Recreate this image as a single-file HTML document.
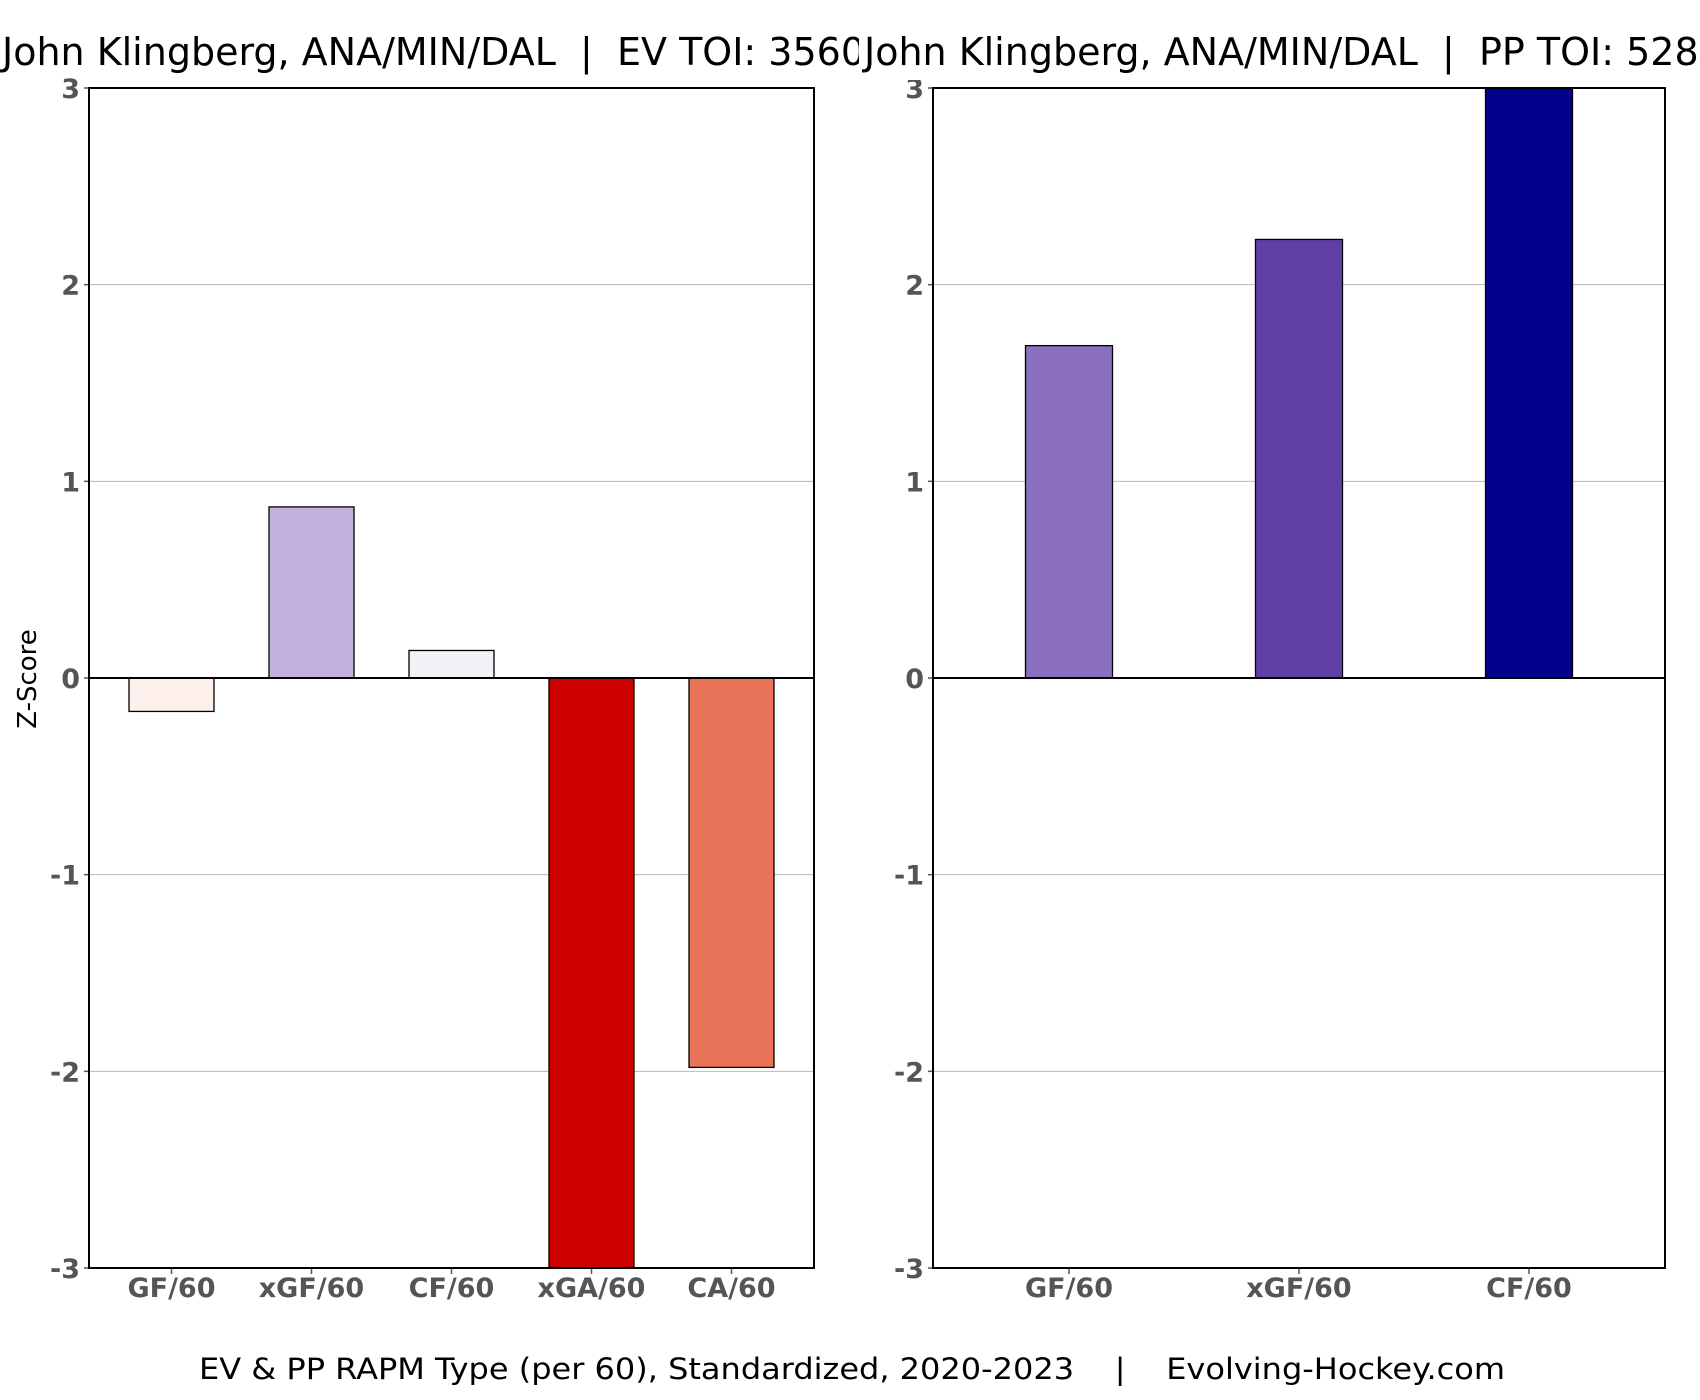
<!DOCTYPE html>
<html><head><meta charset="utf-8"><style>
html,body{margin:0;padding:0;background:#fff;}
svg{display:block;font-family:"DejaVu Sans","Liberation Sans",sans-serif;}
text{white-space:pre;}
</style></head><body>
<svg id="chart" width="1700" height="1400" viewBox="0 0 1700 1400" xmlns="http://www.w3.org/2000/svg"></svg>
<script>
const evCategories = ["GF/60","xGF/60","CF/60","xGA/60","CA/60"];
const evValues = [-0.17, 0.87, 0.14, -3.2, -1.98];
const evColors = ["#fdf0ec","#c3b0dc","#f3f0f8","#cc0000","#e97358"];
const ppCategories = ["GF/60","xGF/60","CF/60"];
const ppValues = [1.69, 2.23, 3.2];
const ppColors = ["#8a70bf","#6040a6","#03008c"];
const yTicks = [-3,-2,-1,0,1,2,3];

const NS="http://www.w3.org/2000/svg";
const svgEl=document.getElementById('chart');
function mk(tag,attrs,parent){const e=document.createElementNS(NS,tag);for(const k in attrs)e.setAttribute(k,attrs[k]);(parent||svgEl).appendChild(e);return e;}

const topY=88,bottomY=1268;
function yScale(v){return topY+(3-v)*(bottomY-topY)/6;}

function panel(name,x0,x1,cats,vals,cols,spacing,bw){
  const g=mk('g',{});
  
  
  const mid=(cats.length-1)/2;
  const xScale=i=>(x0+x1)/2+(i-mid)*spacing;
  mk('rect',{x:x0,y:topY,width:x1-x0,height:bottomY-topY,fill:'#fff'},g);
  const clip=mk('clipPath',{id:'clip-'+name},g);
  mk('rect',{x:x0,y:topY,width:x1-x0,height:bottomY-topY},clip);
  yTicks.forEach(t=>{
    const y=yScale(t);
    const gl=mk('line',{x1:x0,x2:x1,y1:y,y2:y,stroke:'#b8b8b8','stroke-width':1},g);
    
    
    mk('line',{x1:x0-5,x2:x0,y1:y,y2:y,stroke:'#555','stroke-width':1.5},g);
    const tl=mk('text',{x:x0-9,y:y+10,'text-anchor':'end','font-size':27,'font-weight':'bold',fill:'#555'},g);
    tl.textContent=t;
    
    
  });
  const bars=mk('g',{'clip-path':'url(#clip-'+name+')'},g);
  cats.forEach((c,i)=>{
    const cx=xScale(i),y0=yScale(0),y1=yScale(vals[i]);
    const r=mk('rect',{x:cx-bw/2,y:Math.min(y0,y1),width:bw,height:Math.abs(y1-y0),fill:cols[i],stroke:'#000','stroke-width':1.3},bars);
    
    
    mk('line',{x1:cx,x2:cx,y1:bottomY,y2:bottomY+6,stroke:'#555','stroke-width':1.5},g);
    const xl=mk('text',{x:cx,y:1297,'text-anchor':'middle','font-size':27,'font-weight':'bold',fill:'#555'},g);
    xl.textContent=c;
    
    
  });
  mk('line',{x1:x0,x2:x1,y1:yScale(0),y2:yScale(0),stroke:'#000','stroke-width':2},g);
  mk('rect',{x:x0,y:topY,width:x1-x0,height:bottomY-topY,fill:'none',stroke:'#000','stroke-width':2},g);
}
panel('ev',89,814,evCategories,evValues,evColors,140,85);
panel('pp',933,1665,ppCategories,ppValues,ppColors,230,87);

const yl=mk('text',{x:0,y:0,transform:'translate(36,679) rotate(-90)','text-anchor':'middle','font-size':26,fill:'#000'});
yl.textContent='Z-Score';



const t1=mk('text',{x:2,y:65,'font-size':38,fill:'#000'});
t1.textContent='John Klingberg, ANA/MIN/DAL  |  EV TOI: 3560';


mk('rect',{x:859,y:20,width:841,height:60,fill:'#fff'});
const t2=mk('text',{x:864,y:65,'font-size':38,fill:'#000'});
t2.textContent='John Klingberg, ANA/MIN/DAL  |  PP TOI: 528';



const ft=mk('text',{x:852,y:1379,'text-anchor':'middle','font-size':29,fill:'#000',textLength:1306,lengthAdjust:'spacingAndGlyphs'});
ft.textContent='EV & PP RAPM Type (per 60), Standardized, 2020-2023    |    Evolving-Hockey.com';


</script>
</body></html>
